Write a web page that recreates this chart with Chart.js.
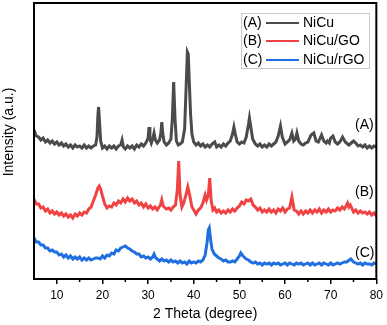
<!DOCTYPE html>
<html lang="en">
<head>
  <meta charset="UTF-8">
  <title>XRD NiCu</title>
  <script src="https://cdn.jsdelivr.net/npm/chart.js"></script>
  <style>
    body { margin: 0; background: #fff; }
    #wrap { width: 387px; height: 325px; }
  </style>
</head>
<body>
  <div id="wrap">
    <canvas id="myChart" width="387" height="325"></canvas>
  </div>

<script>
  // 2 theta positions and intensities (arbitrary units)
  var thetaA = [5,5.5,6,6.5,7,7.5,8,8.5,9,9.5,
    10,10.5,11,11.5,12,12.5,13,13.5,14,14.5,
    15,15.5,16,16.5,17,17.5,18,18.5,18.8,19.0,
    19.15,19.35,19.6,20,20.5,21,21.5,22,22.5,23,
    23.5,24,24.3,24.6,25,25.5,26,26.5,27,27.5,
    28,28.5,29,29.5,30,30.2,30.4,30.7,31,31.3,
    31.6,32,32.5,32.8,33,33.2,33.5,34,34.5,35,
    35.3,35.6,35.9,36.2,36.6,37,37.5,38,38.3,38.6,
    38.8,39,39.3,39.6,40,40.5,41,41.5,42,42.5,
    43,43.5,44,44.6,45,45.5,46,46.5,47,47.5,
    48,48.5,48.8,49.1,49.5,50,50.5,51,51.5,52,
    52.2,52.5,52.9,53.5,54,54.5,55,55.5,56,56.5,
    57,57.5,58,58.5,59,59.4,60,60.5,61,61.5,
    61.9,62.3,62.6,63,63.5,64,64.5,65,65.7,66.3,
    66.8,67.3,68,68.5,69,69.3,69.7,70,70.5,71,
    71.5,72,72.6,73.2,73.7,74,74.5,75,75.5,76,
    76.5,77,77.5,78,78.5,79,79.5,80];
  var intA = [149,143,142,139,141,137,139,136,138,135,
    137,134,136,133,135,132,134,131,134,132,
    133,131,134,131,133,131,133,134,142,164,
    172,158,138,131,133,130,133,131,133,130,
    133,134,139,132,130,133,131,133,130,134,
    132,135,133,136,141,152,140,136,140,146,
    139,136,139,146,157,146,137,134,136,140,
    160,197,160,138,134,135,137,150,188,227,
    225,200,165,145,137,134,136,133,135,132,
    134,132,135,137,132,134,132,135,133,136,
    138,145,152,145,137,135,137,136,142,155,
    161,152,140,135,133,135,132,134,132,135,
    133,135,137,143,153,142,135,137,139,146,
    138,140,146,138,135,134,136,137,144,146,
    138,137,144,138,136,138,136,141,143,137,
    135,137,142,137,135,134,136,138,136,133,
    134,132,134,131,133,131,133,132];

  var thetaB = [5,5.5,6,6.5,7,7.5,8,8.5,9,9.5,
    10,10.5,11,11.5,12,12.5,13,13.5,14,14.5,
    15,15.5,16,16.5,17,17.5,18,18.5,19,19.3,
    19.6,20,20.5,21,21.5,22,22.5,23,23.5,24,
    24.5,25,25.5,26,26.5,27,27.5,28,28.5,29,
    29.5,30,30.5,31,31.5,32,32.7,33,33.3,34,
    34.5,35,35.5,36,36.4,36.7,37,37.4,37.8,38.3,
    38.7,39.1,39.6,40,40.5,41,41.5,42,42.5,42.8,
    43.2,43.5,43.8,44.2,44.6,45,45.5,46,46.5,47,
    47.5,48,48.5,49,49.5,50,50.5,51,51.5,52,
    52.5,53,53.5,54,54.5,55,55.5,56,56.5,57,
    57.5,58,58.5,59,59.5,60,60.5,61,61.5,62,
    62.5,63,63.5,64,64.5,65,65.5,66,66.5,67,
    67.5,68,68.5,69,69.5,70,70.5,71,71.5,72,
    72.5,73,73.5,73.7,74,74.3,75,75.5,76,76.5,
    77,77.5,78,78.5,79,79.5,80];
  var intB = [80,75,75,71,72,68,70,66,68,65,
    67,64,66,63,65,62,64,61,65,63,
    66,64,67,66,70,72,78,84,91,93,
    90,83,75,71,73,72,76,74,78,76,
    80,77,81,78,80,76,78,74,76,72,
    75,71,73,70,72,69,74,79,73,70,
    71,69,72,74,89,118,84,72,76,84,
    92,84,72,69,65,69,71,76,84,79,
    84,101,79,69,71,67,69,66,68,66,
    69,67,70,68,71,73,77,75,79,78,
    80,74,72,69,71,67,69,67,70,67,
    69,66,70,68,71,67,70,71,82,69,
    68,65,68,65,68,66,69,66,69,67,
    70,66,69,67,70,67,69,68,71,69,
    72,70,74,76,72,74,67,69,66,68,
    66,67,65,67,64,66,63];

  var thetaC = [5,5.5,6,6.5,7,7.5,8,8.5,9,9.5,
    10,10.5,11,11.5,12,12.5,13,13.5,14,14.5,
    15,15.5,16,16.5,17,17.5,18,18.5,19,19.5,
    20,20.5,21,21.5,22,22.5,23,23.5,24,24.5,
    25,25.5,26,26.5,27,27.5,28,28.5,29,29.5,
    30,30.5,31,31.3,31.7,32,32.5,33,33.5,34,
    34.5,35,35.5,36,36.5,37,37.5,38,38.5,39,
    39.5,40,40.5,41,41.5,42,42.5,42.9,43.2,43.4,
    43.7,44,44.5,45,45.5,46,46.5,47,47.5,48,
    48.5,49,49.5,50,50.3,50.8,51.5,52,52.5,53,
    53.5,54,54.5,55,55.5,56,56.5,57,57.5,58,
    58.5,59,59.5,60,60.5,61,61.5,62,62.5,63,
    63.5,64,64.5,65,65.5,66,66.5,67,67.5,68,
    68.5,69,69.5,70,70.5,71,71.5,72,72.5,73,
    73.5,73.8,74.4,75,75.5,76,76.5,77,77.5,78,
    78.5,79,79.5,80];
  var intC = [41,37,37,34,34,31,31,28,29,27,
    27,24,25,22,24,21,23,20,22,20,
    22,19,21,19,21,19,20,21,21,20,
    23,21,24,23,26,25,29,28,31,32,
    33,31,30,28,27,25,25,22,23,21,
    22,20,22,25,21,20,18,20,18,19,
    17,19,17,18,16,18,16,17,15,18,
    16,17,16,18,17,19,24,36,49,51,
    39,30,25,23,21,20,18,19,17,17,
    18,17,20,23,26,23,20,19,17,16,
    17,15,16,14,16,15,16,14,16,15,
    16,14,15,16,14,16,15,14,16,15,
    16,14,15,16,14,16,14,15,16,14,
    16,15,14,16,14,15,16,15,16,17,
    17,18,20,17,16,15,16,14,16,15,
    15,14,16,15];

  var seriesTags = ['(A)', '(B)', '(C)'];
  var seriesNames = ['NiCu', 'NiCu/GO', 'NiCu/rGO'];
  var seriesColors = ['#4b4b4b', '#f04242', '#1f6fe0'];
  var xTicks = [10, 20, 30, 40, 50, 60, 70, 80];
  var xMinorTicks = [15, 25, 35, 45, 55, 65, 75];

  function toPoints(xs, ys) {
    return xs.map(function (x, i) { return { x: x, y: ys[i] }; });
  }

  var font = 'Arial, "Liberation Sans", sans-serif';

  // frame, minor ticks, legend box, side labels and y title
  var decor = {
    id: 'decor',
    afterDraw: function (chart) {
      var ctx = chart.ctx;
      var a = chart.chartArea;
      var xs = chart.scales.x;
      ctx.save();
      ctx.strokeStyle = '#000';
      ctx.lineWidth = 2;
      ctx.strokeRect(a.left, a.top, a.right - a.left, a.bottom - a.top);

      ctx.lineWidth = 1.5;
      xMinorTicks.forEach(function (v) {
        var px = xs.getPixelForValue(v);
        ctx.beginPath();
        ctx.moveTo(px, a.bottom);
        ctx.lineTo(px, a.bottom + 3);
        ctx.stroke();
      });

      // legend
      ctx.strokeStyle = '#c8c8c8';
      ctx.lineWidth = 1;
      ctx.strokeRect(241.5, 13.5, 128, 55);
      ctx.font = '14px ' + font;
      ctx.textBaseline = 'middle';
      var rows = [23, 41, 60];
      for (var i = 0; i < 3; i++) {
        ctx.fillStyle = '#000';
        ctx.textAlign = 'left';
        ctx.fillText(seriesTags[i], 243, rows[i]);
        ctx.fillText(seriesNames[i], 303, rows[i]);
        ctx.strokeStyle = seriesColors[i];
        ctx.lineWidth = 2;
        ctx.beginPath();
        ctx.moveTo(266, rows[i]);
        ctx.lineTo(299, rows[i]);
        ctx.stroke();
      }

      // curve tags on the right
      ctx.fillStyle = '#000';
      var tagY = [125, 192, 253];
      for (var j = 0; j < 3; j++) {
        ctx.fillText(seriesTags[j], 355, tagY[j]);
      }

      // y axis title
      ctx.translate(9, 132);
      ctx.rotate(-Math.PI / 2);
      ctx.textAlign = 'center';
      ctx.fillText('Intensity (a.u.)', 0, 0);
      ctx.restore();
    }
  };

  new Chart(document.getElementById('myChart'), {
    type: 'line',
    data: {
      datasets: [
        { label: seriesNames[0], data: toPoints(thetaA, intA), borderColor: seriesColors[0] },
        { label: seriesNames[1], data: toPoints(thetaB, intB), borderColor: seriesColors[1] },
        { label: seriesNames[2], data: toPoints(thetaC, intC), borderColor: seriesColors[2] }
      ]
    },
    options: {
      responsive: false,
      animation: false,
      layout: { padding: { left: 34, right: 8, top: 3, bottom: 0 } },
      elements: {
        point: { radius: 0 },
        line: { borderWidth: 3, tension: 0 }
      },
      plugins: {
        legend: { display: false },
        tooltip: { enabled: false }
      },
      scales: {
        x: {
          type: 'linear',
          min: 5,
          max: 80,
          afterFit: function (s) { s.height = 46; },
          border: { display: false },
          grid: {
            drawOnChartArea: false,
            drawTicks: true,
            tickLength: 5,
            color: function (c) {
              return c.tick && xTicks.indexOf(c.tick.value) >= 0 ? '#000' : 'rgba(0,0,0,0)';
            },
            lineWidth: 1.5
          },
          ticks: {
            stepSize: 5,
            padding: 4,
            color: '#000',
            font: { family: font, size: 12 },
            maxRotation: 0,
            autoSkip: false,
            callback: function (v) { return xTicks.indexOf(v) >= 0 ? String(v) : ''; }
          },
          title: {
            display: true,
            text: '2 Theta (degree)',
            color: '#000',
            font: { family: font, size: 14 },
            padding: { top: 0, bottom: 2 }
          }
        },
        y: {
          display: false,
          min: 0,
          max: 276
        }
      }
    },
    plugins: [decor]
  });
</script>
</body>
</html>
